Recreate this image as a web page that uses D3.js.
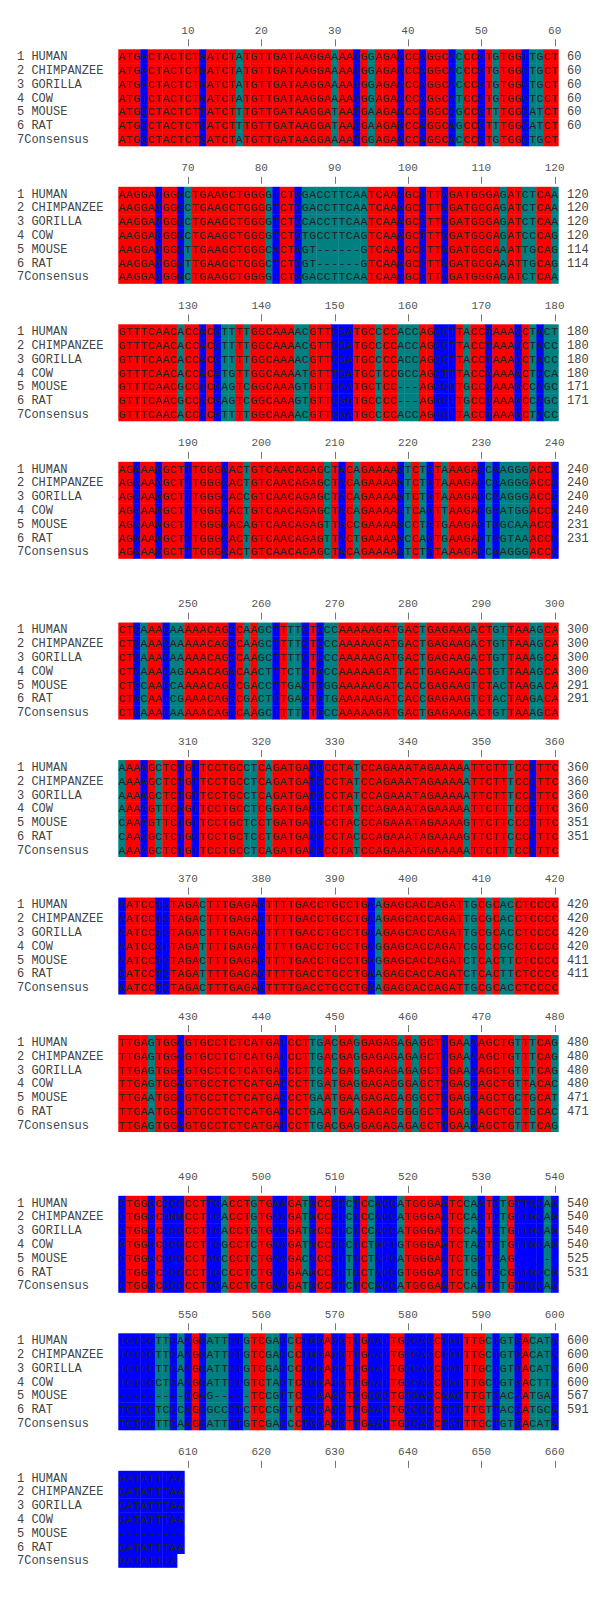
<!DOCTYPE html>
<html>
<head>
<meta charset="utf-8">
<script src="https://cdn.jsdelivr.net/npm/d3@7"></script>
<style>
  body { margin: 0; background: #fff; }
  text { font-family: "Courier New", Courier, "Liberation Mono", monospace; }
</style>
</head>
<body>
<div id="chart"></div>
<script>
// sequences, one string per 60-column block (spaces only for readability)
const clean = s => s.replace(/ /g, "");

const rowNames = ["1 HUMAN", "2 CHIMPANZEE", "3 GORILLA", "4 COW", "5 MOUSE", "6 RAT", "7Consensus"];

const human = [
  "ATGGCTACTC TGATCTATGT TGATAAGGAA AATGGAGAAC CAGGCACCCG TGTGGTTGCT",
  "AAGGATGGGC TGAAGCTGGG GTCTGGACCT TCAATCAAAG CCTTAGATGG GAGATCTCAA",
  "GTTTCAACAC CACGTTTTGG CAAAACGTTC GATGCCCCAC CAGCCTTACC TAAAGCTACT",
  "AGAAAGGCTT TGGGAACTGT CAACAGAGCT ACAGAAAAGT CTGTAAAGAC CAAGGGACCC",
  "CTCAAACAAA AACAGCCAAG CTTTTCTGCC AAAAAGATGA CTGAGAAGAC TGTTAAAGCA",
  "AAAAGCTCTG TTCCTGCCTC AGATGATGCC TATCCAGAAA TAGAAAAATT CTTTCCCTTC",
  "AATCCTCTAG ACTTTGAGAG TTTTGACCTG CCTGAAGAGC ACCAGATTGC GCACCTCCCC",
  "TTGAGTGGAG TGCCTCTCAT GATCCTTGAC GAGGAGAGAG AGCTTGAAAA GCTGTTTCAG",
  "CTGGGCCCCC CTTCACCTGT GAAGATGCCC TCTCCACCAT GGGAATCCAA TCTGTTGCAG",
  "TCTCCTTCAA GCATTCTGTC GACCCTGGAT GTTGAATTGC CACCTGTTTG CTGTGACATA",
  "GATATTTAA"
].map(clean);

const chimpanzee = [
  "ATGGCTACTC TGATCTATGT TGATAAGGAA AATGGAGAAC CAGGCACCCG TGTGGCTGCT",
  "AAGGATGGGC TGAAGCTGGG GTCTGGACCT TCAATCAAAG CCTTAGATGG GAGATCTCAA",
  "GTTTCAACAC CACGTTTTGG CAAAACGTTC GATGCCCCAC CAGCCTTACC TAAAGCTACC",
  "AGAAAAGCTT TGGGAACTGT CAACAGAGCT ACAGAAAAGT CTGTAAAGAC CAAGGGACCC",
  "CTCAAACAAA AACAGCCAAG CTTTTCTGCC AAAAAGATGA CTGAGAAGAC TGTTAAAGCA",
  "AAAAGCTCTG TTCCTGCCTC AGATGATGCC TATCCAGAAA TAGAAAAATT CTTTCCCTTC",
  "AATCCTCTAG ACTTTGAGAG TTTTGACCTG CCTGAAGAGC ACCAGATTGC GCACCTCCCC",
  "TTGAGTGGAG TGCCTCTCAT GATCCTTGAC GAGGAGAGAG AGCTTGAAAA GCTGTTTCAG",
  "CTGGGCNNNC CTTCACCTGT GAAGATGCCC TCTCCACCAT GGGAATCCAA TCTGTTGCAG",
  "TCTCCTTCAA GCATTCTGTC GACCCTGGAT GTTGAATTGC CACCTGTTTG CTGTGACATA",
  "GATATTTAA"
].map(clean);

const gorilla = [
  "ATGGCTACTC TGATCTATGT TGATAAGGAA AATGGAGAAC CAGGCACCCG TGTGGCTGCT",
  "AAGGATGGGC TGAAGCTGGG GTCTGCACCT TCAATCAAAG CCTTAGATGG GAGATCTCAA",
  "GTTTCAACAC CACGTTTTGG CAAAACGTTC GATGCCCCAC CAGCCTTACC TAAAGCTACC",
  "AGAAAGGCTT TGGGAACCGT CAACAGAGCT ACAGAAAAGT CTGTAAAGAC CAAGGGACCC",
  "CTCAAACAAA AACAGCCAAG CTTTTCTGCC AAAAAGATGA CTGAGAAGAC TGTTAAAGCA",
  "AAAAGCTCTG TTCCTGCCTC AGATGATGCC TATCCAGAAA TAGAAAAATT CTTTCCCTTC",
  "AATCCTCTAG ACTTTGAGAG TTTTGACCTG CCTGAAGAGC ACCAGATTGC GCACCTCCCC",
  "TTGAGTGGAG TGCCTCTCAT GATCCTTGAC GAGGAGAGAG AGCTTGAAAA GCTGTTTCAG",
  "CTGGGCCCCC CTTCACCTGT GAGGATGCCC TCTCCACCAT GGGAATCCAA TCTGTTGCAG",
  "TCTCCTTCAA GCATTCTGTC GACCCTGGAT GTTGAATTGC CACCTGTTTG CTGTGACATA",
  "GATATTTAA"
].map(clean);

const cow = [
  "ATGTCTACTC TGATCTATGT TGATAAGGAA AATGGAGAAC CAGGCATCCA TGTGGCTCCT",
  "AAGGACGGGC TGAAGCTGGG GTCTGTGCCT TCAGTCAAAG CTTTGGATGG GAGATCCCAG",
  "GTTTCAACAC CACATGTTGG CAAAATGTTT GATGCTCCGC CAGCTTTACC AAAAACTGCA",
  "AGAAAGGCTT TGGGAACTGT CAACAGAGCT ACAGAAAAAT CAGTTAAGAC GAATGGACCG",
  "CTCAAACAGA AACAGACAAC TTTCTCTACC AAAAAGATTA CTGAGAAGAC TGTTAAAGCA",
  "AAAAGTTCGG TTCCTGCCTC GGATGACACC TATCCAGAAA TAGAAAAATT CTTTCCCTTC",
  "AATCCATTAG ATTTTGAGAA TTTTGACCTG CCTGAGGAGC ACCAGATCGC CCGCCTCCCC",
  "TTGAGTGGAG TGCCTCTCAT GATCCTTGAT GAGGAGAGGG AGCTTGAGCA GCTGTTACAC",
  "GTGGGCCCCC CTTCGCCTCT GAAGATGCCT CCTCTGCTGT GGGAGTCTAA TCTGTTGCAG",
  "TCTCCCTCAA GCATTCTGTC TACTCTGGAT GTTGAATTGC CACCTGTTTG CTGTGACTTA",
  "GATATTTAA"
].map(clean);

const mouse = [
  "ATGGCTACTC TTATCTTTGT TGATAAGGAT AATGAAGAAC CCGGCCGCCG TTTGGCATCT",
  "AAGGATGGGT TGAAGCTGGG CACTAGT--- ---GTCAAGG CCTTAGATGG GAAATTGCAG",
  "GTTTCAACGC CTCGAGTCGG CAAAGTGTTC AATGCTCC-- -AGCCGTGCC TAAAGCCAGC",
  "AGAAAGGCTT TGGGGACAGT CAACAGAGTT GCCGAAAAGC CTATGAAGAC TGGCAAACCC",
  "CTCCAACCAA AACAGCCGAC CTTGACTGGG AAAAAGATCA CCGAGAAGTC TACTAAGACA",
  "CAAAGTTCTG TTCCTGCTCC TGATGATGCC TACCCAGAAA TAGAAAAGTT CTTCCCTTTC",
  "AATCCTCTAG ACTTTGAGAG TTTTGACCTG CCTGGGGAGC ACCAGATCTC ACTTCTCCCC",
  "TTGAATGGCG TGCCTCTCAT GACCCTGAAT GAAGAGAGAG GGCTGGAGAA GCTGCTGCAT",
  "CTGGGCCCCC CTAGCCCTCT GAAGACACCC TTTCTATCAT GGGAATCTGG TAAG------",
  "---------G GAG-----TC CGTTC--AAA CTCGGGCTGT AAGCAACTTG TCAC-ATGA-",
  "---------"
].map(clean);

const rat = [
  "ATGGCTACTC TGATCTTTGT TGATAAGGAT AACGAAGAGC CAGGCAGCCG TTTGGCATCT",
  "AAGGATGGAT TGAAGCTGGG CTCTGGT--- ---GTCAAAG CCTTAGATGG GAAATTGCAG",
  "GTTTCAACGC CACGAGTCGG CAAAGTGTTC GGTGCCCC-- -AGGCTTGCC TAAAGCCAGC",
  "AGGAAGGCTC TGGGAACTGT CAACAGAGTT ACTGAAAAGC CAGTGAAGAG TAGTAAACCC",
  "CTGCAATCGA AACAGCCGAC TCTGAGTGTG AAAAAGATCA CCGAGAAGTC TACTAAGACA",
  "CAAGGCTCTG CTCCTGCTCC TGATGATGCC TACCCAGAAA TAGAAAAGTT CTTCCCCTTC",
  "GATCCTCTAG ATTTTGAGAG TTTTGACCTG CCTGAAGAGC ACCAGATCTC ACTTCTCCCC",
  "TTGAATGGAG TGCCTCTCAT GATCCTGAAT GAAGAGAGGG GGCTTGAGAA GCTGCTGCAC",
  "CTGGACCCCC CTTCCCCTCT GCAGAAGCCC TTCCTACCGT GGGAATCTGA TCCGTTGCCG",
  "TCTCCTCCCA GCGCCCTCTC CGCTCTGGAT GTTGAATTGC CGCCTGTTTG TTACGATGCA",
  "GATATTTAA"
].map(clean);

const consensus = [
  "ATGGCTACTC TGATCTATGT TGATAAGGAA AATGGAGAAC CAGGCACCCG TGTGGCTGCT",
  "AAGGATGGGC TGAAGCTGGG GTCTGGACCT TCAATCAAAG CCTTAGATGG GAGATCTCAA",
  "GTTTCAACAC CACGTTTTGG CAAAACGTTC GATGCCCCAC CAGCCTTACC TAAAGCTACC",
  "AGAAAGGCTT TGGGAACTGT CAACAGAGCT ACAGAAAAGT CTGTAAAGAC CAAGGGACCC",
  "CTCAAACAAA AACAGCCAAG CTTTTCTGCC AAAAAGATGA CTGAGAAGAC TGTTAAAGCA",
  "AAAAGCTCTG TTCCTGCCTC AGATGATGCC TATCCAGAAA TAGAAAAATT CTTTCCCTTC",
  "AATCCTCTAG ACTTTGAGAG TTTTGACCTG CCTGAAGAGC ACCAGATTGC GCACCTCCCC",
  "TTGAGTGGAG TGCCTCTCAT GATCCTTGAC GAGGAGAGAG AGCTTGAAAA GCTGTTTCAG",
  "CTGGGCCCCC CTTCACCTGT GAAGATGCCC TCTCCACCAT GGGAATCCAA TCTGTTGCAG",
  "TCTCCTTCAA GCATTCTGTC GACCCTGGAT GTTGAATTGC CACCTGTTTG CTGTGACATA",
  "GATATTTA"
].map(clean);

const sequences = [human, chimpanzee, gorilla, cow, mouse, rat];
const rows = [...sequences, consensus];

const blockSize = 60;
const rulerStep = 10;
const levels = ["identical", "oneDiff", "variable"];
const levelColors = ["#ff0000", "#0000ff", "#008080"];

// ---- layout ----
const width = 600, height = 1610;
const rowH = 13.8;
const firstTop = 49.3, blockStep = 137.5, groupExtra = 23.25, blocksPerGroup = 4;
const blockTop = i => firstTop + i * blockStep + groupExtra * Math.floor(i / blocksPerGroup);

const svg = d3.select("#chart").append("svg")
  .attr("width", width)
  .attr("height", height);

const x = d3.scaleBand().domain(d3.range(blockSize)).range([118.3, 558.3]);
const y = d3.scaleBand().domain(d3.range(rows.length)).range([0, rows.length * rowH]);
const color = d3.scaleOrdinal().domain(levels).range(levelColors);

// column colour: all six equal -> red, one differs -> blue, else teal
function columnLevel(b, c) {
  const chars = sequences.map(s => s[b][c]).filter(ch => ch !== undefined);
  const top = d3.max(d3.rollup(chars, v => v.length, ch => ch).values());
  if (top === sequences.length) return "identical";
  if (top === sequences.length - 1) return "oneDiff";
  return "variable";
}

const nBlocks = human.length;

d3.range(nBlocks).forEach(b => {
  const g = svg.append("g").attr("transform", `translate(0,${blockTop(b)})`);

  // ruler
  const ticks = d3.range(rulerStep - 1, blockSize, rulerStep);
  g.selectAll(".rnum").data(ticks).enter().append("text")
    .attr("x", c => x(c) + x.bandwidth() / 2)
    .attr("y", -15.5)
    .attr("text-anchor", "middle")
    .attr("font-size", 11)
    .attr("fill", "#555")
    .text(c => b * blockSize + c + 1);
  g.selectAll(".rtick").data(ticks).enter().append("line")
    .attr("x1", c => Math.round(x(c) + x.bandwidth() / 2) + 0.5)
    .attr("x2", c => Math.round(x(c) + x.bandwidth() / 2) + 0.5)
    .attr("y1", -10)
    .attr("y2", -3)
    .attr("stroke", "#777");

  rows.forEach((seq, r) => {
    const str = seq[b];
    const cells = str.split("").map((ch, c) => ({ ch, c }));
    const rg = g.append("g");

    rg.selectAll("rect").data(cells).enter().append("rect")
      .attr("x", d => x(d.c))
      .attr("y", y(r))
      .attr("width", x.bandwidth() + 0.4)
      .attr("height", y.bandwidth() + 0.4)
      .attr("fill", d => color(columnLevel(b, d.c)));

    rg.selectAll("text").data(cells).enter().append("text")
      .attr("x", d => x(d.c) + x.bandwidth() / 2)
      .attr("y", y(r) + y.bandwidth() / 2 + 4)
      .attr("text-anchor", "middle")
      .attr("font-size", 11.5)
      .attr("fill", "#222")
      .text(d => d.ch);

    // row name
    g.append("text")
      .attr("x", 17)
      .attr("y", y(r) + y.bandwidth() / 2 + 4)
      .attr("font-size", 12)
      .attr("fill", "#444")
      .text(rowNames[r]);

    // running residue count on full blocks
    if (r < sequences.length && str.length === blockSize) {
      const total = seq.slice(0, b + 1).join("").replace(/-/g, "").length;
      g.append("text")
        .attr("x", 567)
        .attr("y", y(r) + y.bandwidth() / 2 + 4)
        .attr("font-size", 12)
        .attr("fill", "#444")
        .text(total);
    }
  });
});
</script>
</body>
</html>
